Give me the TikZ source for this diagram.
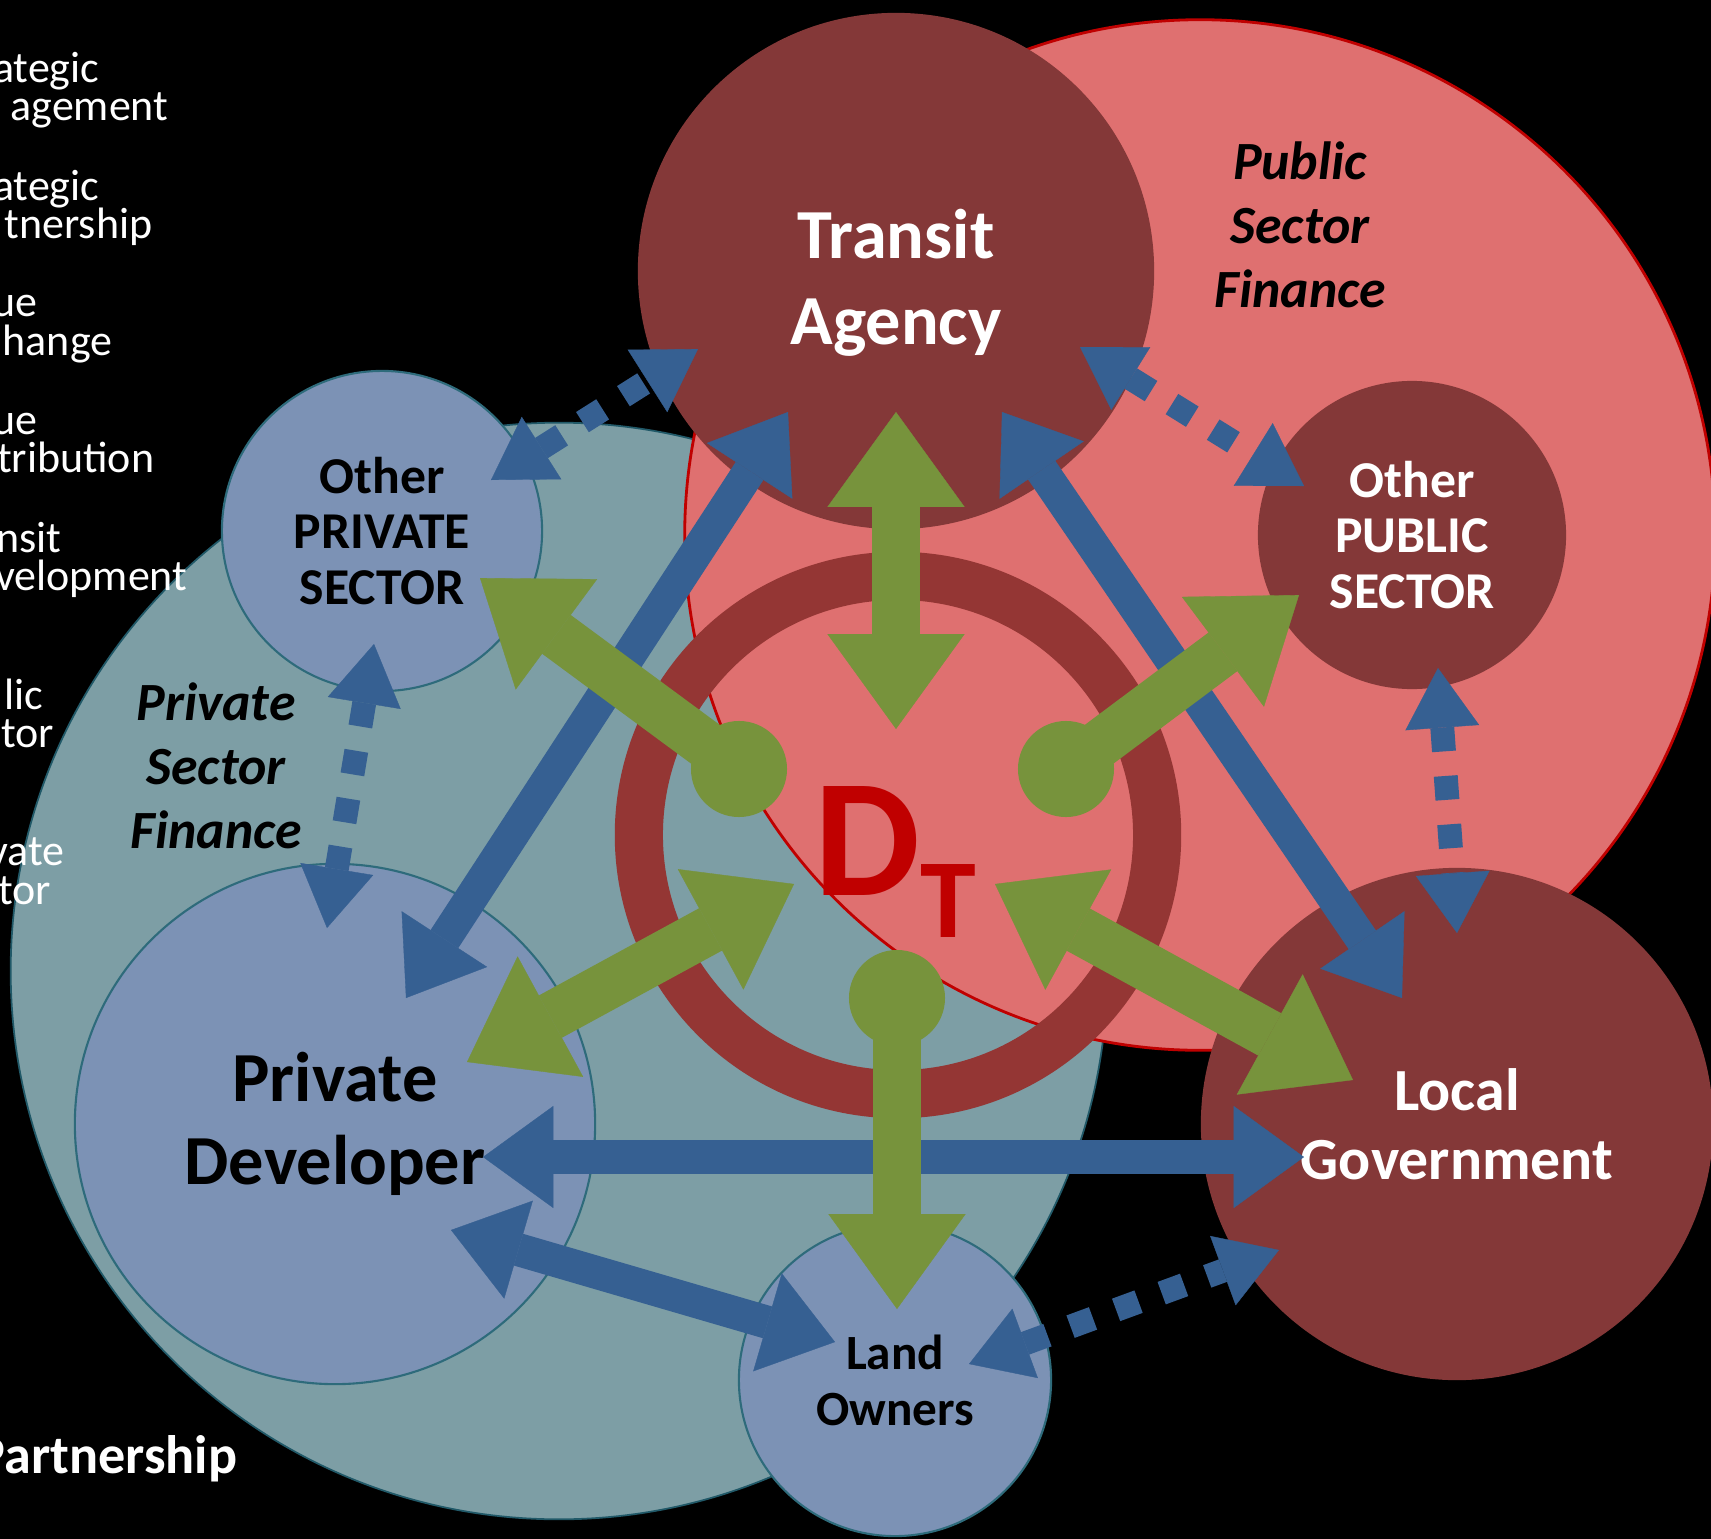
\documentclass[tikz,border=0pt]{standalone}
\usepackage{fontspec}
\setmainfont{Carlito}
\usetikzlibrary{arrows.meta}
\definecolor{agencyred}{HTML}{843838}
\definecolor{actorblue}{HTML}{7C92B5}
\definecolor{actoredge}{HTML}{2E6B7B}
\definecolor{privfin}{HTML}{7D9EA5}
\definecolor{privedge}{HTML}{215968}
\definecolor{pubfin}{HTML}{DF7070}
\definecolor{pubedge}{HTML}{C00000}
\definecolor{ringred}{HTML}{943634}
\definecolor{linkblue}{HTML}{366092}
\definecolor{flowgreen}{HTML}{77933C}
\definecolor{dtred}{HTML}{C00000}
\pgfdeclarelayer{background}
\pgfsetlayers{background,main}
\tikzstyle{privarea}=[circle, draw=privedge, line width=0.5pt, fill=privfin, inner sep=0pt]
\tikzstyle{pubarea}=[circle, draw=pubedge, line width=0.8pt, fill=pubfin, inner sep=0pt]
\tikzstyle{publicactor}=[circle, fill=agencyred, text=white, align=center, inner sep=0pt]
\tikzstyle{privateactor}=[circle, draw=actoredge, line width=0.6pt, fill=actorblue,
  text=black, align=center, inner sep=0pt]
\tikzstyle{finance}=[align=center, font=\fontsize{15.3}{18.2}\selectfont\bfseries\itshape]
\tikzstyle{legend}=[anchor=base east, inner sep=0pt, text=white,
  font=\fontsize{12.5}{14}\selectfont]
\tikzstyle{link}=[draw, color=linkblue, line width=9.4pt,
  >={Triangle[length=20pt,width=29pt,line width=0.1pt]}, <->]
\tikzstyle{linkpart}=[link, line width=6.8pt, dash pattern=on 6.8pt off 7pt,
  >={Triangle[length=17pt,width=21pt,line width=0.1pt]}]
\tikzstyle{flow}=[draw, color=flowgreen, line width=13.7pt,
  >={Triangle[length=27pt,width=39pt,line width=0.1pt]}]
\newcommand{\actor}[4]{node (#1) [#2, minimum size=#3] {#4}}
\newcommand{\ball}[1]{\fill[flowgreen] (#1) circle (0.48cm)}

\begin{document}
\begin{tikzpicture}[x=0.01cm,y=-0.01cm]
  \useasboundingbox (0,0) rectangle (1711,1539);

  % Finance areas behind everything
  \begin{pgfonlayer}{background}
    \fill[black] (0,0) rectangle (1711,1539);
    \path (559,971) \actor{psf}{privarea}{10.96cm}{};
    \path (1200,535) \actor{pubf}{pubarea}{10.30cm}{};
  \end{pgfonlayer}

  % Legend, cut at the left edge
  \path (100,82) node (l1a) [legend] {ategic};
  \path (169,120) node (l1b) [legend] {agement};
  \path (100,200) node (l2a) [legend] {ategic};
  \path (153,238) node (l2b) [legend] {tnership};
  \path (38,316) node (l3a) [legend] {ue};
  \path (113,355) node (l3b) [legend] {hange};
  \path (38,434) node (l4a) [legend] {ue};
  \path (155,472) node (l4b) [legend] {tribution};
  \path (62,552) node (l5a) [legend] {nsit};
  \path (188,590) node (l5b) [legend] {velopment};
  \path (44,709) node (l6a) [legend] {lic};
  \path (55,747) node (l6b) [legend] {tor};
  \path (65,865) node (l7a) [legend] {vate};
  \path (52,904) node (l7b) [legend] {tor};
  \path (238,1473) node (l8) [legend, font=\fontsize{15.4}{18}\selectfont\bfseries] {Partnership};

  \path (216,766) node (psflabel) [finance] {Private\\Sector\\Finance};
  \path (1300,225) node (pubflabel) [finance] {Public\\Sector\\Finance};

  % D_T ring
  \path (898,835) node (ring) [circle, draw=ringred, line width=13.7pt,
    minimum size=5.18cm, inner sep=0pt] {};
  \path (814,895) node (dt) [anchor=base west, inner sep=0pt, text=dtred, font=\bfseries]
    {\fontsize{47.8}{48}\selectfont D\raisebox{-12.2pt}{\fontsize{32}{32}\selectfont T}};

  % Draw diagram elements
  \path (896,271) \actor{ta}{publicactor}{5.16cm}{};
  \path (ta.center)+(0,12) node (talabel) [text=white, align=center,
    font=\fontsize{20}{24.5}\selectfont\bfseries] {Transit\\Agency};
  \path (1412,535) \actor{opu}{publicactor, font=\fontsize{14.7}{15.8}\selectfont\bfseries}{3.08cm}{Other\\PUBLIC\\SECTOR};
  \path (1457,1124) \actor{lg}{publicactor, font=\fontsize{17}{19.6}\selectfont\bfseries}{5.12cm}{Local\\Government};
  \path (382,531) \actor{ops}{privateactor, font=\fontsize{14.7}{15.8}\selectfont\bfseries}{3.20cm}{Other\\PRIVATE\\SECTOR};
  \path (335,1124) \actor{pd}{privateactor, font=\fontsize{20}{23.6}\selectfont\bfseries}{5.20cm}{Private\\Developer};
  \path (895,1380) \actor{lo}{privateactor, font=\fontsize{14}{15.9}\selectfont\bfseries}{3.12cm}{Land\\Owners};

  % Arrow end points
  \coordinate (pd1) at (406,998);   \coordinate (ta1) at (788,412);
  \coordinate (ta2) at (1002,412);  \coordinate (lg1) at (1402,998);
  \coordinate (pd2) at (483,1157);  \coordinate (lg2) at (1304,1157);
  \coordinate (pd3) at (451,1230);  \coordinate (lo1) at (835,1342);
  \coordinate (ops1) at (491,480);  \coordinate (ta3) at (698,349);
  \coordinate (ta4) at (1080,347);  \coordinate (opu1) at (1304,486);
  \coordinate (ops2) at (374,644);  \coordinate (pd4) at (327,928);
  \coordinate (opu2) at (1438,668); \coordinate (lg3) at (1457,933);
  \coordinate (lo2) at (969,1364);  \coordinate (lg4) at (1279,1250);
  \coordinate (ta5) at (896,412);   \coordinate (dt1) at (896,729);
  \coordinate (b1) at (739,769);    \coordinate (ops3) at (480,578);
  \coordinate (b2) at (1066,769);   \coordinate (opu3) at (1299,595);
  \coordinate (b3) at (897,998);    \coordinate (lo3) at (897,1309);
  \coordinate (dt2) at (794,884);   \coordinate (pd5) at (467,1062);
  \coordinate (dt3) at (995,884);   \coordinate (lg5) at (1353,1080);

  % Draw arrows between elements
  \path [link] (pd1) -- (ta1);
  \path [link] (ta2) -- (lg1);
  \path [link] (pd2) -- (lg2);
  \path [link] (pd3) -- (lo1);
  \path [linkpart] (ops1) -- (ta3);
  \path [linkpart] (ta4) -- (opu1);
  \path [linkpart] (ops2) -- (pd4);
  \path [linkpart] (opu2) -- (lg3);
  \path [linkpart] (lo2) -- (lg4);

  \path [flow, <->] (ta5) -- (dt1);
  \ball{b1};
  \path [flow, ->] (b1) -- (ops3);
  \ball{b2};
  \path [flow, ->] (b2) -- (opu3);
  \ball{b3};
  \path [flow, ->] (b3) -- (lo3);
  \path [flow, <->] (dt2) -- (pd5);
  \path [flow, <->] (dt3) -- (lg5);
\end{tikzpicture}
\end{document}
